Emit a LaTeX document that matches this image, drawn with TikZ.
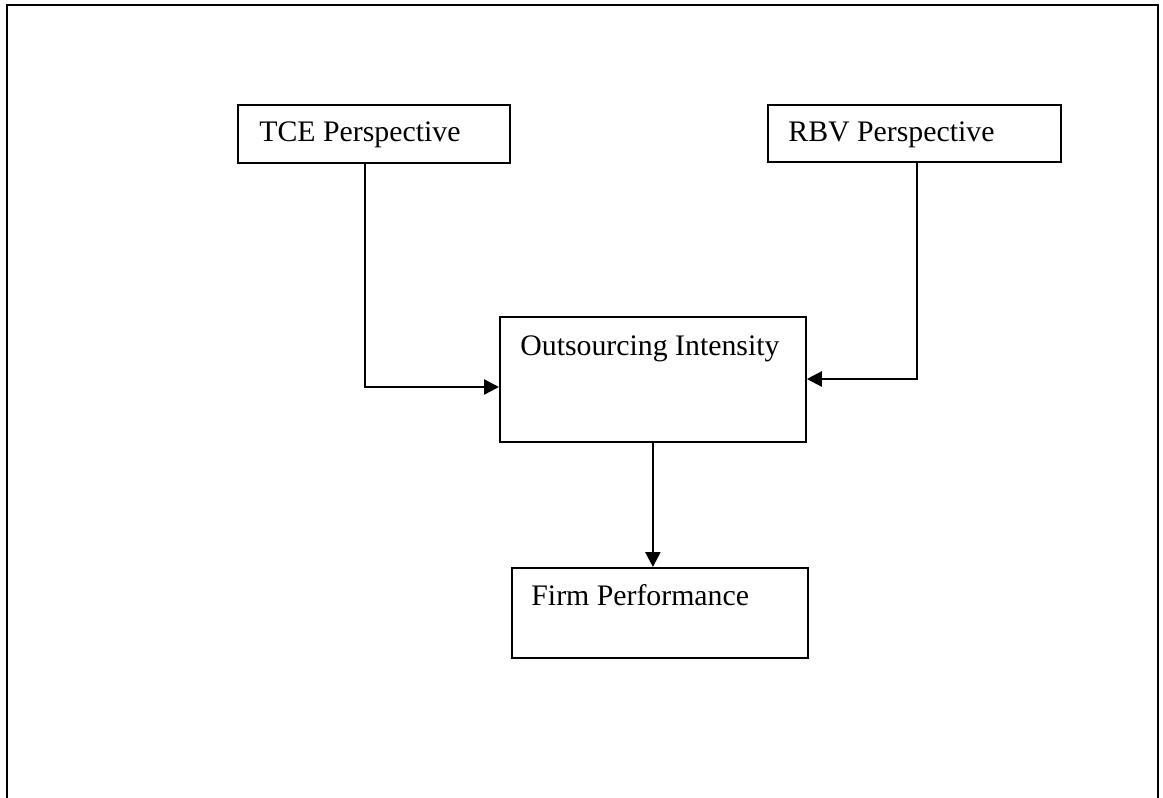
\documentclass[tikz,border=0pt]{standalone}
\usepackage{fontspec}
\setmainfont{Liberation Serif}
\usetikzlibrary{arrows.meta}
\begin{document}
\begin{tikzpicture}[x=0.5pt,y=-0.5pt,
  box/.style={draw, line width=0.9pt, inner sep=0pt, anchor=north west},
  lbl/.style={anchor=base west, inner sep=0pt, font=\fontsize{14.9}{18}\selectfont},
  arr/.style={line width=1.2pt, -{Triangle[length=7.5pt,width=7.5pt]}},
  frame/.style={line width=1.3pt}]
\useasboundingbox (0,0) rectangle (1163,798);
\draw[frame] (7,800) -- (7,5) -- (1158,5) -- (1158,800);
% boxes
\node[box, minimum width=136pt, minimum height=29pt] (tce) at (237,104) {};
\node[box, minimum width=146.5pt, minimum height=28.5pt] (rbv) at (767,104) {};
\node[box, minimum width=153pt, minimum height=62.5pt] (outs) at (499,316) {};
\node[box, minimum width=148pt, minimum height=45pt] (firm) at (511,567) {};
% labels
\node[lbl] (tcel) at (259,141) {TCE Perspective};
\node[lbl] (rbvl) at (788,141) {RBV Perspective};
\node[lbl] (outsl) at (520,355) {Outsourcing Intensity};
\node[lbl] (firml) at (531,605) {Firm Performance};
% connectors
\coordinate (t1) at (365,387);
\coordinate (r1) at (917,379);
\draw[arr] (tce.south -| t1) -- (t1) -- (t1 -| outs.west);
\draw[arr] (rbv.south -| r1) -- (r1) -- (r1 -| outs.east);
\draw[arr] (outs.south) -- (outs.south |- firm.north);
\end{tikzpicture}
\end{document}
